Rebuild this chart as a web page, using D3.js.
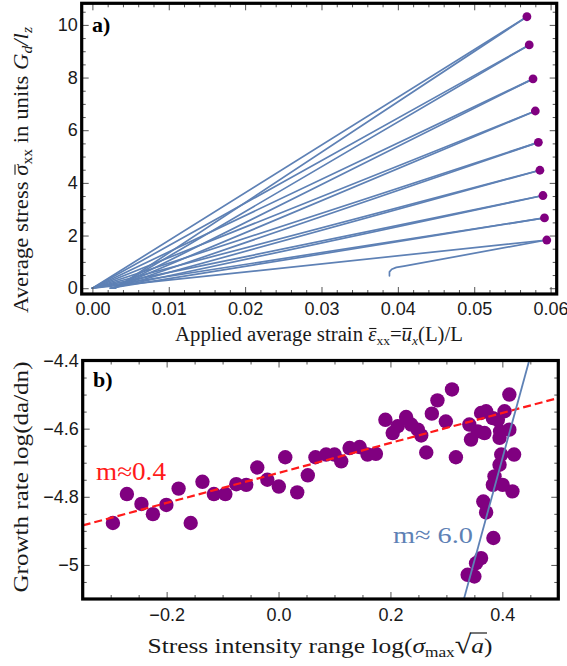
<!DOCTYPE html>
<html>
<head>
<meta charset="utf-8">
<script src="https://cdn.jsdelivr.net/npm/d3@7"></script>
<style>
  body { margin: 0; background: #fff; }
  svg { display: block; }
</style>
</head>
<body>
<svg id="chart" width="567" height="666"></svg>
<script>
// ---------- Panel a: loading / unloading cycles ----------
const peakStrain = [0.0569, 0.0572, 0.0577, 0.0580, 0.0584, 0.0586, 0.0590, 0.0592, 0.0595];
const peakStress = [10.31, 9.24, 7.95, 6.73, 5.54, 4.48, 3.52, 2.67, 1.83];
// strain left when each unloading branch reaches zero stress
const residualStrain = [0.0030, 0.0029, 0.0028, 0.0027, 0.0026, 0.0025, 0.0024, 0.0023];
// final unloading branch after the last peak
const tailStrain = [0.0408, 0.0398, 0.0392, 0.0389, 0.0389];
const tailStress = [0.84, 0.79, 0.72, 0.62, 0.47];
const strainTicks = [0, 0.01, 0.02, 0.03, 0.04, 0.05, 0.06];
const stressTicks = [0, 2, 4, 6, 8, 10];

// ---------- Panel b: crack growth rate vs stress intensity ----------
const logStressRange = [
  -0.296, -0.271, -0.245, -0.2245, -0.2005, -0.1786, -0.157, -0.136, -0.1155, -0.095,
  -0.0755, -0.0577, -0.038, -0.020, 0.0005, 0.012, 0.0334, 0.0523, 0.066, 0.085,
  0.100, 0.112, 0.127, 0.145, 0.159, 0.174, 0.191, 0.204, 0.213, 0.228,
  0.237, 0.249, 0.255, 0.264, 0.274, 0.284, 0.299, 0.310, 0.317, 0.341,
  0.344, 0.356, 0.362, 0.371, 0.368, 0.383, 0.392, 0.396, 0.395, 0.404,
  0.4125, 0.4125, 0.398, 0.421, 0.395, 0.386, 0.383, 0.4005, 0.418, 0.366,
  0.371, 0.384, 0.362, 0.353, 0.338, 0.350
];
const logGrowthRate = [
  -4.877, -4.792, -4.821, -4.851, -4.824, -4.776, -4.877, -4.756, -4.792, -4.792,
  -4.763, -4.765, -4.714, -4.750, -4.770, -4.684, -4.787, -4.737, -4.684, -4.676,
  -4.676, -4.696, -4.657, -4.654, -4.676, -4.674, -4.574, -4.613, -4.593, -4.566,
  -4.588, -4.603, -4.620, -4.670, -4.556, -4.517, -4.579, -4.485, -4.684, -4.588,
  -4.632, -4.608, -4.554, -4.549, -4.613, -4.569, -4.574, -4.608, -4.627, -4.549,
  -4.500, -4.603, -4.676, -4.676, -4.706, -4.740, -4.765, -4.765, -4.784, -4.814,
  -4.846, -4.921, -4.980, -4.995, -5.029, -5.034
];
const lowFitSlope = 0.44, lowFitIntercept = -4.73;
const highFitSlope = 6.0, highFitIntercept = -7.088;
const stressRangeTicks = [-0.2, 0, 0.2, 0.4];
const growthTicks = [-5, -4.8, -4.6, -4.4];
const growthTickLabels = ["\u22125", "\u22124.8", "\u22124.6", "\u22124.4"];

// ---------- shared style ----------
const curveBlue = "#5e81b5";
const purple = "#800080";
const ink = "#1a1a1a";
const serif = "'Liberation Serif', 'Times New Roman', serif";
const sans = "'Liberation Sans', Arial, sans-serif";

const svg = d3.select("#chart");

function frameTicks(g, x, y, opts) {
  const [x0, x1] = x.range();
  const [y0, y1] = y.range(); // y0 bottom, y1 top
  const major = 7, minor = 4;
  const tickColor = "#555";
  g.append("g").attr("transform", `translate(0,${y0})`)
    .call(d3.axisBottom(x).tickValues(opts.xMajor).tickSizeInner(-major).tickSizeOuter(0)
      .tickPadding(opts.xPad).tickFormat(opts.xFormat));
  g.append("g").attr("transform", `translate(0,${y0})`)
    .call(d3.axisBottom(x).tickValues(opts.xMinor).tickSizeInner(-minor).tickSizeOuter(0).tickFormat(""));
  g.append("g").attr("transform", `translate(0,${y1})`)
    .call(d3.axisTop(x).tickValues(opts.xMajor).tickSizeInner(-major).tickSizeOuter(0).tickFormat(""));
  g.append("g").attr("transform", `translate(0,${y1})`)
    .call(d3.axisTop(x).tickValues(opts.xMinor).tickSizeInner(-minor).tickSizeOuter(0).tickFormat(""));
  g.append("g").attr("transform", `translate(${x0},0)`)
    .call(d3.axisLeft(y).tickValues(opts.yMajor).tickSizeInner(-major).tickSizeOuter(0)
      .tickPadding(opts.yPad).tickFormat(opts.yFormat));
  g.append("g").attr("transform", `translate(${x0},0)`)
    .call(d3.axisLeft(y).tickValues(opts.yMinor).tickSizeInner(-minor).tickSizeOuter(0).tickFormat(""));
  g.append("g").attr("transform", `translate(${x1},0)`)
    .call(d3.axisRight(y).tickValues(opts.yMajor).tickSizeInner(-major).tickSizeOuter(0).tickFormat(""));
  g.append("g").attr("transform", `translate(${x1},0)`)
    .call(d3.axisRight(y).tickValues(opts.yMinor).tickSizeInner(-minor).tickSizeOuter(0).tickFormat(""));

  g.selectAll(".domain").remove();
  g.selectAll(".tick line").attr("stroke", tickColor).attr("stroke-width", 1);
  g.selectAll(".tick text").attr("font-family", sans).attr("font-size", 18).attr("fill", ink);
  g.append("rect")
    .attr("x", x0).attr("y", y1).attr("width", x1 - x0).attr("height", y0 - y1)
    .attr("fill", "none").attr("stroke", "#000").attr("stroke-width", 3.2);
}

function range(a, b, step) {
  const out = [];
  const n = Math.round((b - a) / step);
  for (let i = 0; i <= n; i++) out.push(+(a + i * step).toFixed(6));
  return out;
}

// overbar over one character of a text element, at a fixed height above its baseline
function overbar(parent, textNode, idx, barY) {
  const ext = textNode.getExtentOfChar(idx);
  parent.append("line")
    .attr("x1", ext.x + 1).attr("x2", ext.x + ext.width)
    .attr("y1", barY).attr("y2", barY)
    .attr("stroke", ink).attr("stroke-width", 1.1);
}

// ================= Panel a =================
{
  const x = d3.scaleLinear().domain([-0.0014, 0.0608]).range([81.7, 556.7]);
  const y = d3.scaleLinear().domain([-0.22, 10.82]).range([294, 3.3]);
  const g = svg.append("g");
  const line = d3.line().x(d => x(d[0])).y(d => y(d[1]));

  const lines = g.append("g")
    .attr("fill", "none")
    .attr("stroke", curveBlue)
    .attr("stroke-width", 1.7)
    .attr("stroke-linejoin", "round")
    .attr("stroke-linecap", "round");

  // loading branches: origin up to each peak
  peakStrain.forEach((s, i) => {
    lines.append("path").attr("d", line([[0, 0], [s, peakStress[i]]]));
  });
  // unloading branches: peak back down to zero stress
  residualStrain.forEach((r, i) => {
    lines.append("path").attr("d", line([[peakStrain[i], peakStress[i]], [r, 0]]));
  });
  // final branch after the last peak
  const last = peakStrain.length - 1;
  lines.append("path").attr("d", line(
    [[peakStrain[last], peakStress[last]]].concat(tailStrain.map((s, i) => [s, tailStress[i]]))
  ));

  g.selectAll("circle.peak")
    .data(peakStrain.map((s, i) => [s, peakStress[i]]))
    .join("circle")
    .attr("class", "peak")
    .attr("cx", d => x(d[0])).attr("cy", d => y(d[1]))
    .attr("r", 4.4).attr("fill", purple);

  frameTicks(g, x, y, {
    xMajor: strainTicks, xMinor: range(0, 0.06, 0.002).filter(v => !strainTicks.some(t => Math.abs(t - v) < 1e-9)),
    yMajor: stressTicks, yMinor: range(0, 10.5, 0.5).filter(v => v % 2 !== 0),
    xFormat: d3.format(".2f"), yFormat: d3.format("d"),
    xPad: 8, yPad: 4
  });

  g.append("text")
    .attr("x", 92).attr("y", 32)
    .attr("font-family", serif).attr("font-weight", "bold").attr("font-size", 22)
    .text("a)");

  // x label
  const xl = g.append("text")
    .attr("x", 319).attr("y", 341).attr("text-anchor", "middle")
    .attr("textLength", 288).attr("lengthAdjust", "spacingAndGlyphs")
    .attr("font-family", serif).attr("font-size", 20).attr("fill", ink);
  xl.append("tspan").text("Applied average strain ");
  xl.append("tspan").attr("font-style", "italic").text("\u03b5");
  xl.append("tspan").attr("font-size", 13).attr("dy", 4).text("xx");
  xl.append("tspan").attr("dy", -4).text("=");
  xl.append("tspan").attr("font-style", "italic").text("u");
  xl.append("tspan").attr("font-style", "italic").attr("font-size", 13).attr("dy", 4).text("x");
  xl.append("tspan").attr("dy", -4).text("(L)/L");
  const xlStr = "Applied average strain ";
  overbar(g, xl.node(), xlStr.length, 341 - 12.5);
  overbar(g, xl.node(), xlStr.length + 4, 341 - 12.5);

  // y label
  const yg = g.append("g").attr("transform", "translate(28,170) rotate(-90)");
  const yl = yg.append("text")
    .attr("text-anchor", "middle")
    .attr("textLength", 286).attr("lengthAdjust", "spacingAndGlyphs")
    .attr("font-family", serif).attr("font-size", 20.5).attr("fill", ink);
  yl.append("tspan").text("Average stress ");
  yl.append("tspan").attr("font-style", "italic").text("\u03c3");
  yl.append("tspan").attr("font-size", 14).attr("dy", 4).text("xx");
  yl.append("tspan").attr("dy", -4).text(" in units ");
  yl.append("tspan").attr("font-style", "italic").text("G");
  yl.append("tspan").attr("font-style", "italic").attr("font-size", 14).attr("dy", 4).text("d");
  yl.append("tspan").attr("font-style", "italic").attr("dy", -4).text("/l");
  yl.append("tspan").attr("font-style", "italic").attr("font-size", 14).attr("dy", 4).text("z");
  overbar(yg, yl.node(), "Average stress ".length, -13);
}

// ================= Panel b =================
{
  const x = d3.scaleLinear().domain([-0.35, 0.5]).range([82.7, 558.3]);
  const y = d3.scaleLinear().domain([-5.1, -4.4]).range([599, 360.5]);
  const g = svg.append("g");

  const pts = logStressRange.map((v, i) => [v, logGrowthRate[i]]);
  g.selectAll("circle.obs")
    .data(pts)
    .join("circle")
    .attr("class", "obs")
    .attr("cx", d => x(d[0])).attr("cy", d => y(d[1]))
    .attr("r", 7.2).attr("fill", purple);

  // low-rate fit (dashed red) across the whole frame
  const [xa, xb] = x.domain();
  g.append("line")
    .attr("x1", x(xa)).attr("y1", y(lowFitIntercept + lowFitSlope * xa))
    .attr("x2", x(xb)).attr("y2", y(lowFitIntercept + lowFitSlope * xb))
    .attr("stroke", "#ff1a1a").attr("stroke-width", 2.2).attr("stroke-dasharray", "8,4");

  // steep fit (blue) between bottom and top of frame
  const [ya, yb] = y.domain();
  g.append("line")
    .attr("x1", x((ya - highFitIntercept) / highFitSlope)).attr("y1", y(ya))
    .attr("x2", x((yb - highFitIntercept) / highFitSlope)).attr("y2", y(yb))
    .attr("stroke", curveBlue).attr("stroke-width", 1.8);

  frameTicks(g, x, y, {
    xMajor: stressRangeTicks,
    xMinor: range(-0.35, 0.5, 0.05).filter(v => !stressRangeTicks.some(t => Math.abs(t - v) < 1e-9)),
    yMajor: growthTicks,
    yMinor: range(-5.1, -4.4, 0.05).filter(v => !growthTicks.some(t => Math.abs(t - v) < 1e-9)),
    xFormat: d3.format(".1f"),
    yFormat: (d, i) => growthTickLabels[i],
    xPad: 9, yPad: 4
  });

  g.append("text")
    .attr("x", 93).attr("y", 387)
    .attr("font-family", serif).attr("font-weight", "bold").attr("font-size", 22)
    .text("b)");

  g.append("text")
    .attr("x", 96).attr("y", 480)
    .attr("textLength", 70).attr("lengthAdjust", "spacingAndGlyphs")
    .attr("font-family", serif).attr("font-size", 25).attr("fill", "#ff1a1a")
    .text("m\u22480.4");

  g.append("text")
    .attr("x", 393).attr("y", 543)
    .attr("textLength", 80).attr("lengthAdjust", "spacingAndGlyphs")
    .attr("font-family", serif).attr("font-size", 24).attr("fill", curveBlue)
    .text("m\u2248 6.0");

  // x label with sigma_max and sqrt(a)
  const xl = g.append("text")
    .attr("x", 320).attr("y", 653).attr("text-anchor", "middle")
    .attr("textLength", 345).attr("lengthAdjust", "spacingAndGlyphs")
    .attr("font-family", serif).attr("font-size", 22).attr("fill", ink);
  xl.append("tspan").text("Stress intensity range log(");
  xl.append("tspan").attr("font-style", "italic").text("\u03c3");
  xl.append("tspan").attr("font-size", 15).attr("dy", 4).text("max");
  xl.append("tspan").attr("dy", -4).attr("font-size", 26).text("\u221a");
  xl.append("tspan").attr("font-style", "italic").text("a");
  xl.append("tspan").text(")");
  const base = "Stress intensity range log(".length + 1 + 3;
  const root = xl.node().getExtentOfChar(base);
  const aExt = xl.node().getExtentOfChar(base + 1);
  g.append("line")
    .attr("x1", root.x + root.width - 1.5).attr("x2", aExt.x + aExt.width + 3)
    .attr("y1", root.y + 3).attr("y2", root.y + 3)
    .attr("stroke", ink).attr("stroke-width", 1.2);

  const yg = g.append("g").attr("transform", "translate(28,477) rotate(-90)");
  yg.append("text")
    .attr("text-anchor", "middle")
    .attr("textLength", 231).attr("lengthAdjust", "spacingAndGlyphs")
    .attr("font-family", serif).attr("font-size", 22).attr("fill", ink)
    .text("Growth rate log(da/dn)");
}
</script>
</body>
</html>
